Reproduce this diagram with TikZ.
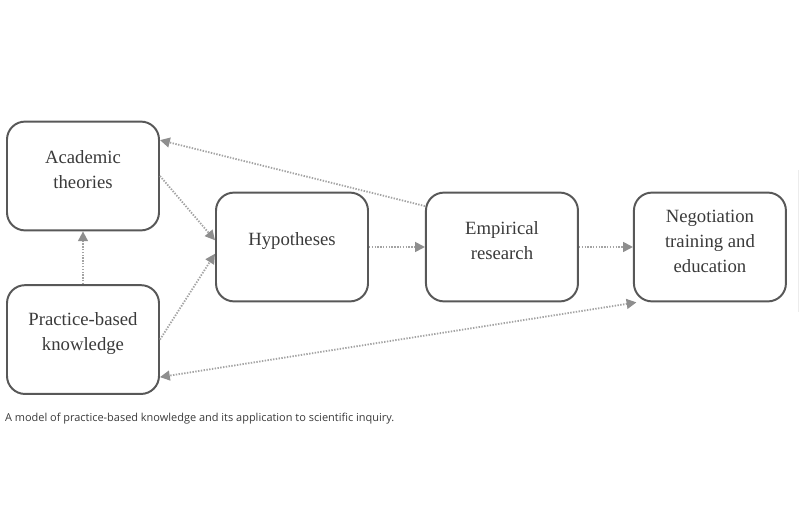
\documentclass[tikz,border=0pt]{standalone}
\usepackage{xcolor}
\usepackage{fontspec}
\setmainfont{Liberation Serif}
\newfontfamily\capfont{Open Sans}
\usepackage{tikz}
\usetikzlibrary{positioning}
\usetikzlibrary{arrows.meta}
\usetikzlibrary{calc}

\definecolor{boxline}{HTML}{585858}
\definecolor{boxtext}{HTML}{3A3A3A}
\definecolor{linkline}{HTML}{A4A4A4}
\definecolor{linkhead}{HTML}{8E8E8E}

\begin{document}
\begin{tikzpicture}[
  box/.style={draw=boxline, line width=1.4pt, rounded corners=0.45cm,
    minimum width=3.8cm, minimum height=2.72cm, inner sep=0pt},
  boxtitle/.style={align=center, text=boxtext, yshift=0.15cm,
    font=\fontsize{13.3}{17.8}\selectfont, inner sep=0pt},
  link/.style={draw=linkline, line width=1.3pt, dash pattern=on 1pt off 1pt,
    -{Triangle[length=7pt,width=7pt,fill=linkhead,color=linkhead]}},
  twolink/.style={link,
    {Triangle[length=7pt,width=7pt,fill=linkhead,color=linkhead]}-{Triangle[length=7pt,width=7pt,fill=linkhead,color=linkhead]}}
]
 \useasboundingbox (0,0) rectangle (20,13.25);

 \node (acad) [box, label={[boxtitle]center:{Academic\\theories}}] at (2.075,8.85) {};
 \node (prac) [box, below=1.32cm of acad, label={[boxtitle]center:{Practice-based\\knowledge}}] {};
 \node (hyp) [box, label={[boxtitle]center:{Hypotheses}}] at (7.3,7.075) {};
 \node (emp) [box, right=1.4cm of hyp, label={[boxtitle]center:{Empirical\\research}}] {};
 \node (neg) [box, right=1.35cm of emp, label={[boxtitle]center:{Negotiation\\training and\\education}}] {};

 \draw [link] (emp.152) -- (acad.25);
 \draw [link] (acad.east) -- (hyp.175);
 \draw [link] (prac.east) -- (hyp.185);
 \draw [link] (prac.north) -- (acad.south);
 \draw [link] (hyp.east) -- (emp.west);
 \draw [link] (emp.east) -- (neg.west);
 \draw [twolink] (neg.217) -- (prac.334);

 \node (caption) [anchor=base west, text=boxtext, font=\capfont\fontsize{7.8}{9}\selectfont, inner sep=0pt]
   at (0.12,2.7) { A model of practice-based knowledge and its application to scientific inquiry. };

 \draw [gray!15, line width=0.6pt] (19.96,9.0) -- (19.96,5.45);
\end{tikzpicture}
\end{document}
